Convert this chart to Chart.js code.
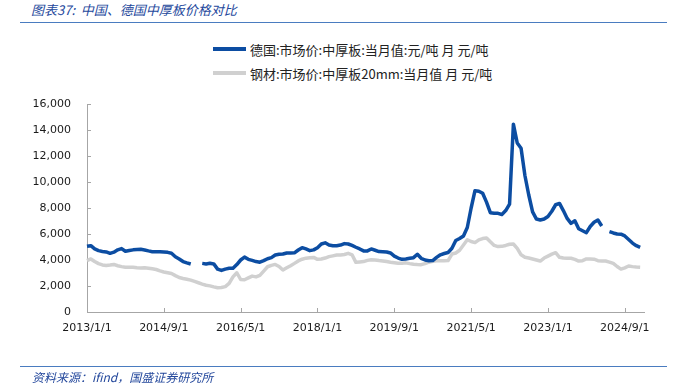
<!DOCTYPE html>
<html>
<head>
<meta charset="utf-8">
<script src="https://cdn.jsdelivr.net/npm/chart.js@4.4.1/dist/chart.umd.min.js"></script>
<style>
  body { margin: 0; width: 684px; height: 386px; background: #fff; position: relative; overflow: hidden;
         font-family: "Noto Sans CJK SC", sans-serif; }
  #chart { position: absolute; left: 0; top: 0; }
  #title { position: absolute; left: 31px; top: 0px; font-size: 13px; font-style: italic; color: #24489c; white-space: pre; }
  .rule { position: absolute; left: 20px; width: 647px; height: 1px; background: #4a7cc0; }
  #legend { position: absolute; left: 213px; top: 37px; font-size: 13px; color: #222; }
  .item { display: flex; align-items: center; height: 24px; white-space: pre; }
  .swatch { width: 33px; height: 4px; margin-right: 4px; }
  #source { position: absolute; left: 32px; top: 368px; font-size: 12px; font-style: italic; color: #24489c; white-space: pre; }
</style>
</head>
<body>
<div id="title">图表37:  中国、德国中厚板价格对比</div>
<div class="rule" style="top:22px"></div>
<div id="legend"></div>
<canvas id="chart" width="684" height="386"></canvas>
<div class="rule" style="top:366px"></div>
<div id="source">资料来源：ifind，国盛证券研究所</div>
<script>
// monthly, 2013/1 .. 2025/1
const seriesNames = ['德国:市场价:中厚板:当月值:元/吨 月 元/吨', '钢材:市场价:中厚板20mm:当月值 月 元/吨'];
const seriesColors = ['#0c4da2', '#d0d0d0'];
const tickLabels = ['2013/1/1', '2014/9/1', '2016/5/1', '2018/1/1', '2019/9/1', '2021/5/1', '2023/1/1', '2024/9/1'];

const germany = [
  5050, 5100, 4850, 4720, 4660, 4620, 4510, 4600, 4780, 4880,
  4670, 4730, 4780, 4800, 4820, 4770, 4700, 4640, 4640, 4640,
  4620, 4590, 4520, 4250, 4080, 3880, 3780, 3690, null, null,
  3740, 3700, 3750, 3700, 3300, 3200, 3300, 3360, 3360, 3650,
  4000, 4220, 4050, 3970, 3880, 3830, 3950, 4100, 4180, 4380,
  4440, 4460, 4540, 4530, 4550, 4770, 4950, 4850, 4720, 4780,
  4950, 5230, 5320, 5150, 5100, 5100, 5150, 5260, 5230, 5120,
  4980, 4850, 4700, 4700, 4850, 4750, 4650, 4640, 4620, 4540,
  4300, 4150, 4050, 4080, 4130, 4180, 4440, 4130, 4000, 3950,
  3960, 4200, 4400, 4500, 4580, 4900, 5500, 5650, 5850, 6500,
  8000, 9330, 9290, 9130, 8450, 7640, 7600, 7590, 7500, 7800,
  8300, 14450, 13000, 12600, 10500, 9000, 7700, 7150, 7080, 7150,
  7350, 7750, 8250, 8350, 7800, 7200, 6820, 7020, 6400, 6250,
  6100, 6580, 6900, 7080, 6620, null, 6180, 6080, 6000, 5990,
  5850, 5580, 5300, 5100, 4970
];

const china = [
  3950, 4080, 3880, 3720, 3620, 3570, 3610, 3660, 3560, 3490,
  3440, 3440, 3440, 3400, 3390, 3410, 3370, 3320, 3270, 3160,
  3080, 3020, 2960, 2800, 2650, 2580, 2520, 2450, 2350, 2250,
  2150, 2060, 2010, 1930, 1860, 1880, 1950, 2200, 2700, 3020,
  2500, 2480, 2620, 2760, 2700, 2820, 3150, 3480, 3590, 3660,
  3500, 3230, 3400, 3560, 3740, 3930, 4060, 4140, 4180, 4200,
  4050, 4080, 4150, 4260, 4320, 4380, 4380, 4420, 4510, 4400,
  3820, 3850, 3880, 3970, 4020, 4000, 3960, 3930, 3880, 3830,
  3790, 3750, 3750, 3780, 3720, 3670, 3650, 3640, 3720, 3830,
  3900, 3940, 3950, 3950, 3960, 4460, 4540, 4750, 5150, 5560,
  5420, 5340, 5550, 5650, 5700, 5400, 5120, 5030, 5050, 5120,
  5210, 5230, 4900, 4400, 4210, 4150, 4080, 4000, 3920, 4150,
  4300, 4450, 4560, 4210, 4150, 4130, 4130, 4050, 3920, 3950,
  4080, 4080, 4060, 3950, 3920, 3920, 3840, 3740, 3500, 3300,
  3400, 3540, 3490, 3460, 3440
];

// month axis runs one month past the last point
const months = [];
for (let i = 0; i <= germany.length; i++) {
  const y = 2013 + Math.floor(i / 12);
  months.push(y + '/' + (i % 12 + 1) + '/1');
}

// html legend
const legend = document.getElementById('legend');
seriesNames.forEach((name, i) => {
  const row = document.createElement('div');
  row.className = 'item';
  const sw = document.createElement('span');
  sw.className = 'swatch';
  sw.style.background = seriesColors[i];
  const txt = document.createElement('span');
  txt.textContent = name;
  row.appendChild(sw);
  row.appendChild(txt);
  legend.appendChild(row);
});

// excel style tick marks pointing into the plot
const innerTicks = {
  id: 'innerTicks',
  beforeDatasetsDraw(chart) {
    const { ctx, chartArea, scales } = chart;
    ctx.save();
    ctx.strokeStyle = '#a6a6a6';
    ctx.lineWidth = 1;
    ctx.beginPath();
    for (let i = 0; i < months.length; i += 20) {
      const x = Math.round(scales.x.getPixelForValue(i)) + 0.5;
      ctx.moveTo(x, chartArea.bottom);
      ctx.lineTo(x, chartArea.bottom - 4);
    }
    scales.y.ticks.forEach(t => {
      const y = Math.round(scales.y.getPixelForValue(t.value)) + 0.5;
      ctx.moveTo(chartArea.left, y);
      ctx.lineTo(chartArea.left + 4, y);
    });
    ctx.stroke();
    ctx.restore();
  }
};

const tickFont = { family: '"DejaVu Sans", sans-serif', size: 11 };

new Chart(document.getElementById('chart'), {
  type: 'line',
  data: {
    labels: months,
    datasets: [
      { label: seriesNames[0], data: germany, borderColor: seriesColors[0], borderWidth: 3.5 },
      { label: seriesNames[1], data: china, borderColor: seriesColors[1], borderWidth: 3.5 }
    ]
  },
  options: {
    responsive: false,
    animation: false,
    spanGaps: false,
    elements: {
      point: { radius: 0 },
      line: { tension: 0, borderJoinStyle: 'round', borderCapStyle: 'butt' }
    },
    layout: { padding: { left: 0, top: 104, right: 40, bottom: 0 } },
    plugins: { legend: { display: false }, tooltip: { enabled: false } },
    scales: {
      x: {
        type: 'category',
        offset: false,
        grid: { display: false, drawTicks: false },
        border: { display: true, color: '#a6a6a6', width: 1 },
        ticks: {
          autoSkip: false,
          maxRotation: 0,
          padding: 10,
          color: '#1a1a1a',
          font: tickFont,
          callback: (v, i) => (i % 20 === 0 ? tickLabels[i / 20] : '')
        },
        afterFit: s => { s.height = 74; }
      },
      y: {
        min: 0,
        max: 16000,
        grid: { display: false, drawTicks: false },
        border: { display: true, color: '#a6a6a6', width: 1 },
        ticks: {
          stepSize: 2000,
          padding: 16,
          color: '#1a1a1a',
          font: tickFont,
          callback: v => v.toLocaleString('en-US')
        },
        afterFit: s => { s.width = 87; }
      }
    }
  },
  plugins: [innerTicks]
});
</script>
</body>
</html>
